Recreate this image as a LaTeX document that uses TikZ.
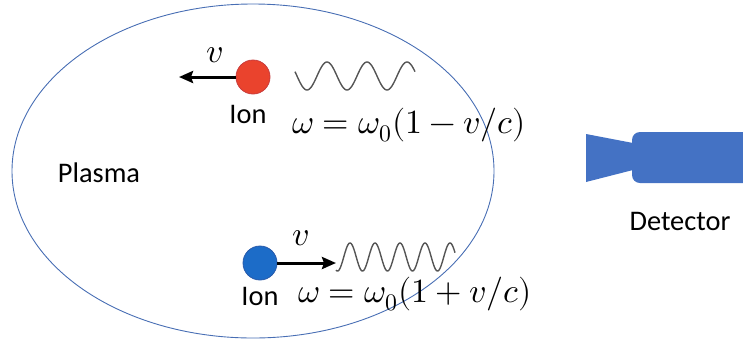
\documentclass[tikz,border=0pt]{standalone}
\usepackage{fontspec}
\usepackage{unicode-math}
\setsansfont{Carlito}
\usetikzlibrary{arrows.meta,shapes.geometric}
\definecolor{plasmablue}{RGB}{72,110,180}
\definecolor{detblue}{RGB}{68,114,196}
\definecolor{ionred}{RGB}{234,67,45}
\definecolor{ionredborder}{RGB}{200,60,60}
\definecolor{ionblue}{RGB}{28,108,200}
\definecolor{ionblueborder}{RGB}{40,90,170}
\definecolor{wavegrey}{RGB}{85,85,85}
\begin{document}
\begin{tikzpicture}[x=1bp,y=-1bp]
\tikzset{
  lbl/.style={font=\sffamily\fontsize{28.5}{32}\selectfont, inner sep=0pt, anchor=base},
  eqn/.style={font=\fontsize{34}{40}\selectfont, inner sep=0pt, anchor=base},
  ionbody/.style={circle, minimum size=34bp, inner sep=0pt, line width=0.8bp},
  vel/.style={line width=3bp, -{Stealth[length=14bp,width=12bp,inset=2bp]}},
  wave/.style={draw=wavegrey, line width=1.4bp},
}
\useasboundingbox (0,0) rectangle (743,345);
% plasma
\node[draw=plasmablue, line width=0.9bp, ellipse, minimum width=482bp, minimum height=334bp, inner sep=0pt] (plasma) at (253,171) {};
\node[lbl] (plasmalbl) at (99,182) {Plasma};
% red ion
\node[ionbody, fill=ionred, draw=ionredborder] (ion1) at (253,77) {};
\coordinate (tip1) at (179,77);
\draw[vel] (ion1.west) -- (tip1);
\node[eqn] (v1) at (215,62) {$v$};
\node[lbl] (ion1lbl) at (248,123) {Ion};
\draw[wave] plot[domain=295:415, samples=150, smooth] (\x,{76+14*sin(9*(\x-297))});
\node[eqn] (eq1) at (409,133) {$\omega=\omega_0(1-v/c)$};
% blue ion
\node[ionbody, fill=ionblue, draw=ionblueborder] (ion2) at (260,263) {};
\coordinate (tip2) at (336,263);
\draw[vel] (ion2.east) -- (tip2);
\node[eqn] (v2) at (301,245) {$v$};
\node[lbl] (ion2lbl) at (260,305) {Ion};
\draw[wave] plot[domain=336:455, samples=200, smooth] (\x,{257-14*cos(14.4*(\x-350))});
\node[eqn] (eq2) at (415,302) {$\omega=\omega_0(1+v/c)$};
% detector
\fill[detblue] (586,134) -- (633,143) -- (633,170) -- (586,182) -- cycle;
\fill[detblue, rounded corners=8bp] (743,132) -- (632,132) -- (632,183) -- (743,183);
\node[lbl] (detlbl) at (680,230) {Detector};
\end{tikzpicture}
\end{document}
